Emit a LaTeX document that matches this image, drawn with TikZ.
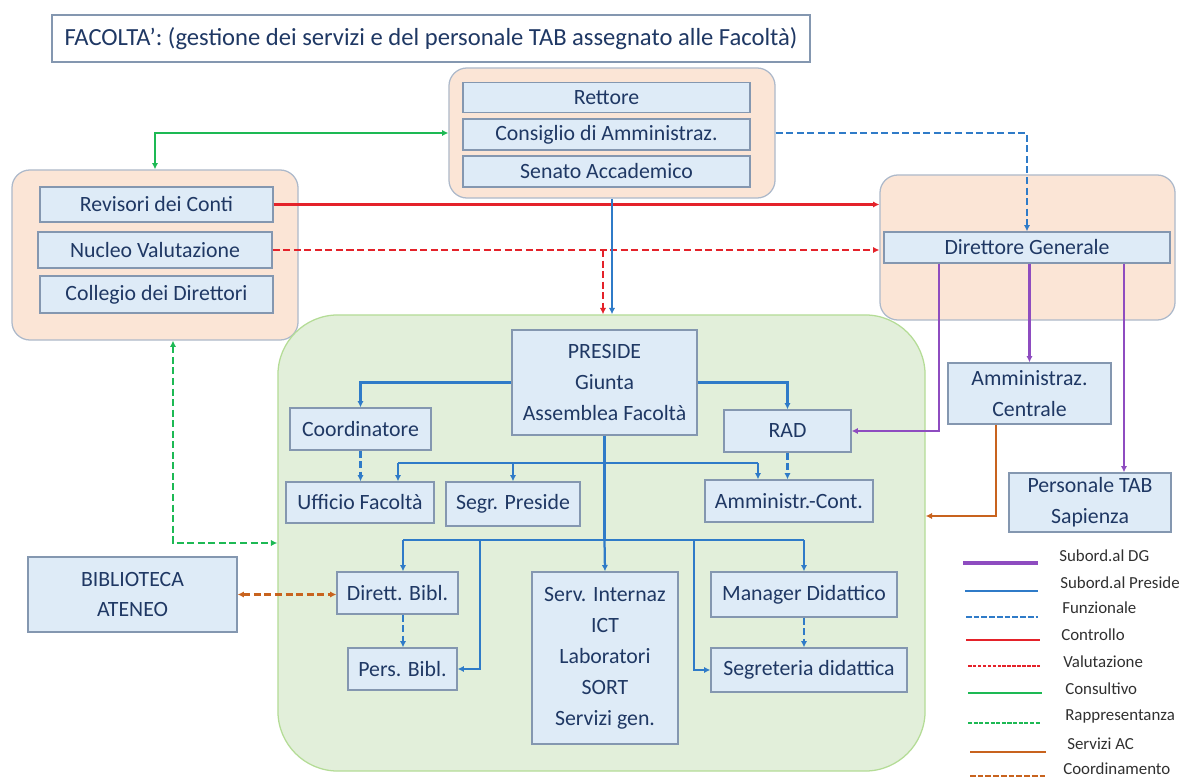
\documentclass[tikz,border=0pt]{standalone}
\usepackage{fontspec}
\setmainfont{Carlito}
\usepackage{tikz}
\usetikzlibrary{arrows.meta, positioning}

\definecolor{cellfill}{HTML}{DEEBF7}
\definecolor{cellline}{HTML}{8497B0}
\definecolor{ink}{HTML}{1F3864}
\definecolor{panelfill}{HTML}{FBE5D6}
\definecolor{panelline}{HTML}{ADB9CA}
\definecolor{facfill}{HTML}{E2EFDA}
\definecolor{facline}{HTML}{B4DC96}
\definecolor{dgcol}{HTML}{8E4CC0}
\definecolor{prescol}{HTML}{2F7BC8}
\definecolor{redcol}{HTML}{E4222A}
\definecolor{greencol}{HTML}{1DB954}
\definecolor{orangecol}{HTML}{C8631E}
\definecolor{legtext}{HTML}{303030}

\tikzstyle{cell} = [rectangle, draw=cellline, fill=cellfill, text=ink, inner sep=1pt, line width=0.9pt,
                    align=center, font=\fontsize{15.5}{22}\selectfont]
\tikzstyle{panel} = [rectangle, rounded corners=0.45cm, draw=panelline, fill=panelfill, line width=0.9pt]
\tikzstyle{facpanel} = [rectangle, rounded corners=1.5cm, draw=facline, fill=facfill, line width=0.9pt]
\tikzstyle{arrowed} = [-{Latex[length=4.5pt,width=4.5pt]}]
\tikzstyle{subdg} = [draw=dgcol, line width=1.6pt]
\tikzstyle{subpres} = [draw=prescol, line width=1.6pt]
\tikzstyle{funz} = [draw=prescol, line width=1.6pt, dash pattern=on 5pt off 2.5pt]
\tikzstyle{contr} = [draw=redcol, line width=1.6pt]
\tikzstyle{valut} = [draw=redcol, line width=1.6pt, dash pattern=on 5pt off 2.5pt]
\tikzstyle{consult} = [draw=greencol, line width=1.6pt]
\tikzstyle{rapp} = [draw=greencol, line width=1.6pt, dash pattern=on 5pt off 2.5pt]
\tikzstyle{servac} = [draw=orangecol, line width=1.6pt]
\tikzstyle{coordin} = [draw=orangecol, line width=1.6pt, dash pattern=on 5pt off 2.5pt]
\tikzstyle{legend} = [anchor=west, inner sep=0pt, text=legtext, font=\fontsize{12}{14}\selectfont]

\begin{document}
\begin{tikzpicture}[x=0.025cm, y=-0.025cm]
	\useasboundingbox (0, 0) rectangle (1185, 780);

	\node (Title) [cell, fill=white, minimum width=18.95cm, minimum height=1.175cm,
	               font=\fontsize{17.5}{20}\selectfont] at (431, 38.5)
	      {FACOLTA’: (gestione dei servizi e del personale TAB assegnato alle Facoltà)};

	% panels
	\node (Organi) [panel, minimum width=8.15cm, minimum height=3.25cm] at (612, 133) {};
	\node (Controlli) [panel, minimum width=7.15cm, minimum height=4.25cm] at (155, 255) {};
	\node (DGgroup) [panel, minimum width=7.375cm, minimum height=3.625cm] at (1027.5, 247.5) {};
	\node (Facolta) [facpanel, minimum width=16.175cm, minimum height=11.4cm] at (601.5, 543) {};

	% organi di governo
	\node (Rettore) [cell, minimum width=7.175cm, minimum height=0.75cm] at (606.5, 97.5) {Rettore};
	\node (Consiglio) [cell, minimum width=7.175cm, minimum height=0.775cm] at (606.5, 134.5) {Consiglio di Amministraz.};
	\node (Senato) [cell, minimum width=7.175cm, minimum height=0.775cm] at (606.5, 171.5) {Senato Accademico};

	% organi di controllo
	\node (Revisori) [cell, minimum width=5.825cm, minimum height=0.875cm] at (156.5, 204.5) {Revisori dei Conti};
	\node (Nucleo) [cell, minimum width=5.85cm, minimum height=0.9cm] at (155, 250) {Nucleo Valutazione};
	\node (Collegio) [cell, minimum width=5.825cm, minimum height=0.925cm] at (156.5, 294.5) {Collegio dei Direttori};

	\node (DG) [cell, minimum width=7.15cm, minimum height=0.775cm] at (1027, 247.5) {Direttore Generale};
	\node (AmmCentrale) [cell, minimum width=4.075cm, minimum height=1.525cm] at (1029.5, 393.5) {Amministraz.\\Centrale};
	\node (PersTAB) [cell, minimum width=4.05cm, minimum height=1.475cm] at (1090, 502.5) {Personale TAB\\Sapienza};
	\node (Biblioteca) [cell, minimum width=5.225cm, minimum height=1.875cm] at (132.5, 594.5) {BIBLIOTECA\\ATENEO};

	% facolta
	\node (Preside) [cell, minimum width=4.625cm, minimum height=2.625cm] at (604.5, 382.5) {PRESIDE\\Giunta\\Assemblea Facoltà};
	\node (Coordinatore) [cell, minimum width=3.525cm, minimum height=1.05cm] at (360.5, 429) {Coordinatore};
	\node (RAD) [cell, minimum width=3.175cm, minimum height=1.05cm] at (787.5, 431) {RAD};
	\node (Ufficio) [cell, minimum width=3.7cm, minimum height=1.025cm] at (360, 502.5) {Ufficio Facoltà};
	\node (Segr) [cell, minimum width=3.35cm, minimum height=1.1cm] at (513, 504) {Segr. Preside};
	\node (AmmCont) [cell, minimum width=4.2cm, minimum height=1.05cm] at (789, 501) {Amministr.-Cont.};
	\node (DirBibl) [cell, minimum width=3.025cm, minimum height=1.05cm] at (397.5, 593) {Dirett. Bibl.};
	\node (PersBibl) [cell, minimum width=2.725cm, minimum height=1.05cm] at (402.5, 669) {Pers. Bibl.};
	\node (ServInt) [cell, minimum width=3.65cm, minimum height=4.3cm] at (605, 658) {Serv. Internaz\\ICT\\Laboratori\\SORT\\Servizi gen.};
	\node (Manager) [cell, minimum width=4.65cm, minimum height=1.125cm] at (804, 594.5) {Manager Didattico};
	\node (Segreteria) [cell, minimum width=4.9cm, minimum height=1.1cm] at (809, 670) {Segreteria didattica};

	% consultivo, funzionale
	\draw [consult, {Latex[length=4.5pt,width=4.5pt]}-{Latex[length=4.5pt,width=4.5pt]}] (Controlli.north) |- (Organi.west);
	\draw [funz, arrowed] (Organi.east) -| (DG.north);

	% controllo e valutazione
	\draw [contr, arrowed] (Revisori.east) -- (Revisori.east -| DGgroup.west);
	\draw [valut, arrowed] (Nucleo.east) -- (Nucleo.east -| DGgroup.west);
	\coordinate (ValDrop) at (603, 250);
	\draw [valut, arrowed] (ValDrop) -- (ValDrop |- Facolta.north);
	\draw [subpres, arrowed] (Organi.south) -- (Organi.south |- Facolta.north);

	% subordinazione al DG
	\coordinate (RADBend) at (939, 433);
	\draw [subdg, arrowed] (DG.south -| RADBend) |- (RAD.east);
	\draw [subdg, arrowed] (DG.south -| AmmCentrale.north) -- (AmmCentrale.north);
	\coordinate (TABDrop) at (1124, 300);
	\draw [subdg, arrowed] (DG.south -| TABDrop) -- (PersTAB.north -| TABDrop);

	% servizi AC
	\coordinate (ACBend) at (996, 516);
	\draw [servac, arrowed] (AmmCentrale.south -| ACBend) |- (Facolta.east |- ACBend);

	% rappresentanza, coordinamento
	\coordinate (RappBend) at (173, 543);
	\draw [rapp, {Latex[length=4.5pt,width=4.5pt]}-{Latex[length=4.5pt,width=4.5pt]}] (Controlli.south -| RappBend) |- (Facolta.west |- RappBend);
	\draw [coordin, {Latex[length=4.5pt,width=4.5pt]}-{Latex[length=4.5pt,width=4.5pt]}] (Biblioteca.east) -- (Biblioteca.east -| DirBibl.west);

	% subordinazione al preside
	\draw [subpres, arrowed] (Preside.west) -| (Coordinatore.north);
	\draw [subpres, arrowed] (Preside.east) -| (RAD.north);
	\coordinate (TopBus) at (604.5, 463);
	\coordinate (UffDrop) at (398, 463);
	\coordinate (ContDrop) at (758, 463);
	\coordinate (LowBus) at (604.5, 540);
	\draw [subpres] (Preside.south) -- (LowBus);
	\draw [subpres] (UffDrop) -- (ContDrop);
	\draw [subpres, arrowed] (UffDrop) -- (UffDrop |- Ufficio.north);
	\draw [subpres, arrowed] (TopBus -| Segr.north) -- (Segr.north);
	\draw [subpres, arrowed] (ContDrop) -- (ContDrop |- AmmCont.north);
	\draw [funz, arrowed] (Coordinatore.south) -- (Coordinatore.south |- Ufficio.north);
	\draw [funz, arrowed] (RAD.south) -- (RAD.south |- AmmCont.north);

	\coordinate (BiblDrop) at (403, 540);
	\draw [subpres] (BiblDrop) -- (LowBus -| Manager.north);
	\draw [subpres, arrowed] (BiblDrop) -- (BiblDrop |- DirBibl.north);
	\draw [subpres, arrowed] (LowBus) -- (ServInt.north);
	\draw [subpres, arrowed] (LowBus -| Manager.north) -- (Manager.north);
	\coordinate (PersBend) at (480, 540);
	\draw [subpres, arrowed] (PersBend) |- (PersBibl.east);
	\coordinate (SegrBend) at (694, 540);
	\draw [subpres, arrowed] (SegrBend) |- (Segreteria.west);
	\draw [funz, arrowed] (DirBibl.south -| BiblDrop) -- (PersBibl.north -| BiblDrop);
	\draw [funz, arrowed] (Manager.south) -- (Manager.south |- Segreteria.north);

	% legend
	\coordinate (LegDGa) at (963, 563);       \coordinate (LegDGb) at (1038, 563);
	\coordinate (LegPresa) at (965, 591);     \coordinate (LegPresb) at (1038, 591);
	\coordinate (LegFunza) at (966, 617);     \coordinate (LegFunzb) at (1038, 617);
	\coordinate (LegContra) at (966, 640);    \coordinate (LegContrb) at (1040, 640);
	\coordinate (LegValuta) at (968, 666);    \coordinate (LegValutb) at (1040, 666);
	\coordinate (LegConsa) at (968, 693);     \coordinate (LegConsb) at (1042, 693);
	\coordinate (LegRappa) at (968, 723);     \coordinate (LegRappb) at (1040, 723);
	\coordinate (LegServa) at (970, 752);     \coordinate (LegServb) at (1046, 752);
	\coordinate (LegCoora) at (970, 776);     \coordinate (LegCoorb) at (1046, 776);
	\draw [subdg, line width=2.2pt] (LegDGa) -- (LegDGb);
	\draw [subpres] (LegPresa) -- (LegPresb);
	\draw [funz, line width=2pt, dash pattern=on 4pt off 1.5pt] (LegFunza) -- (LegFunzb);
	\draw [contr] (LegContra) -- (LegContrb);
	\draw [valut, dash pattern=on 2.5pt off 1pt] (LegValuta) -- (LegValutb);
	\draw [consult] (LegConsa) -- (LegConsb);
	\draw [rapp, line width=2pt, dash pattern=on 3pt off 1pt] (LegRappa) -- (LegRappb);
	\draw [servac] (LegServa) -- (LegServb);
	\draw [coordin, line width=2pt, dash pattern=on 4pt off 1.5pt] (LegCoora) -- (LegCoorb);

	\node (LabDG) [legend] at (1059, 556) {Subord.al DG};
	\node (LabPres) [legend] at (1060, 583) {Subord.al Preside};
	\node (LabFunz) [legend] at (1062, 608) {Funzionale};
	\node (LabContr) [legend] at (1061, 635) {Controllo};
	\node (LabValut) [legend] at (1063, 662) {Valutazione};
	\node (LabCons) [legend] at (1065, 689) {Consultivo};
	\node (LabRapp) [legend] at (1065, 716) {Rappresentanza};
	\node (LabServ) [legend] at (1067, 744) {Servizi AC};
	\node (LabCoor) [legend] at (1063, 769) {Coordinamento};
\end{tikzpicture}
\end{document}
